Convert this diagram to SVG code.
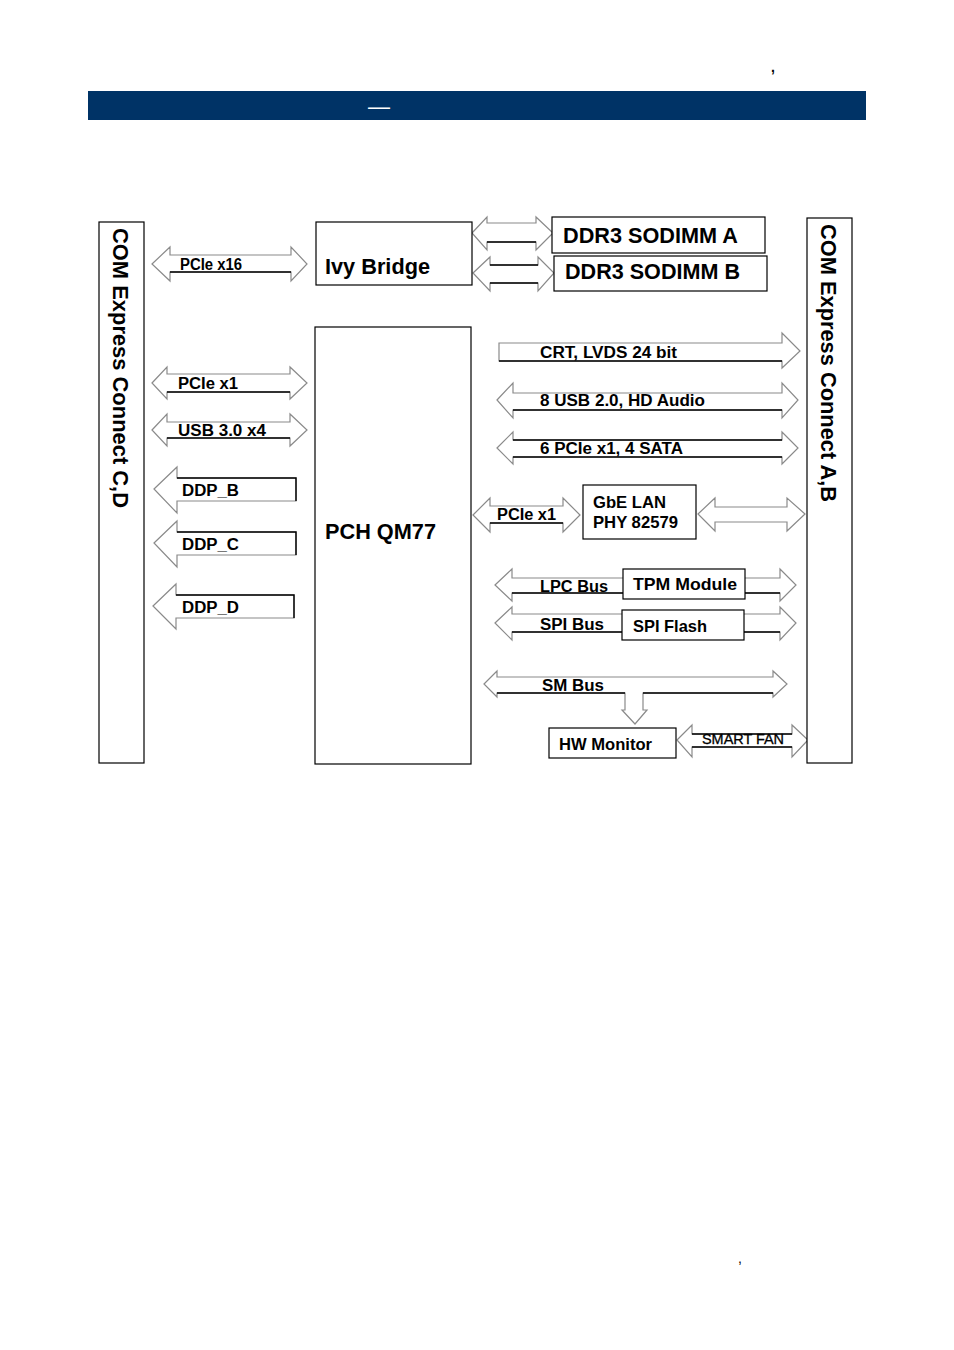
<svg xmlns="http://www.w3.org/2000/svg" width="954" height="1350" viewBox="0 0 954 1350">
<style>
  .ar{fill:#fff;stroke:#8a8a8a;stroke-width:1.2;stroke-linejoin:miter}
  .sh{stroke:#000;stroke-width:1.4;fill:none}
  .bx{fill:#fff;stroke:#000;stroke-width:1.2}
  .t{font-family:"Liberation Sans",Arial,sans-serif;font-weight:bold;fill:#000}
  .lb{font-family:"Liberation Sans",Arial,sans-serif;font-weight:bold;fill:#000;font-size:16px}
</style>
<rect width="954" height="1350" fill="#fff"/>
<g id="header">
  <rect x="88" y="91" width="778" height="29" fill="#003366"/>
  <text x="368" y="114" font-family="Liberation Sans,Arial,sans-serif" font-size="22" fill="#fff">—</text>
  <text x="771" y="72" font-family="Liberation Sans,Arial,sans-serif" font-size="14" font-weight="bold" fill="#000">,</text>
  <text x="738" y="1263" font-family="Liberation Sans,Arial,sans-serif" font-size="14" fill="#000">,</text>
</g>
<g id="connectors">
  <polygon class="ar" points="152,264 170,247 170,255 291,255 291,247 307,264 291,281 291,272 170,272 170,281"/>
  <line class="sh" x1="170" y1="272" x2="291" y2="272"/>
  <text class="lb" x="180" y="270" textLength="62" lengthAdjust="spacingAndGlyphs">PCIe x16</text>

  <polygon class="ar" points="152,383 167,367 167,374 290,374 290,367 307,383 290,399 290,392 167,392 167,399"/>
  <line class="sh" x1="167" y1="392" x2="290" y2="392"/>
  <text class="lb" x="178" y="389" textLength="60" lengthAdjust="spacingAndGlyphs">PCIe x1</text>

  <polygon class="ar" points="152,430 167,414 167,422 290,422 290,414 307,430 290,446 290,438 167,438 167,446"/>
  <line class="sh" x1="167" y1="438" x2="290" y2="438"/>
  <text class="lb" x="178" y="436" textLength="88" lengthAdjust="spacingAndGlyphs">USB 3.0 x4</text>

  <polygon class="ar" points="154,489 177,467 177,478 296,478 296,501 177,501 177,513"/>
  <polyline class="sh" points="177,478 296,478 296,501"/>
  <text class="lb" x="182" y="496" textLength="57" lengthAdjust="spacingAndGlyphs">DDP_B</text>

  <polygon class="ar" points="154,543 177,521 177,532 296,532 296,555 177,555 177,567"/>
  <polyline class="sh" points="177,532 296,532 296,555"/>
  <text class="lb" x="182" y="550" textLength="57" lengthAdjust="spacingAndGlyphs">DDP_C</text>

  <polygon class="ar" points="153,606 176,584 176,595 294,595 294,618 176,618 176,629"/>
  <polyline class="sh" points="176,595 294,595 294,618"/>
  <text class="lb" x="182" y="613" textLength="57" lengthAdjust="spacingAndGlyphs">DDP_D</text>

  <polygon class="ar" points="472,233 487,217 487,223 536,223 536,217 553,233 536,250 536,242 487,242 487,250"/>
  <line class="sh" x1="487" y1="242" x2="536" y2="242"/>
  <polygon class="ar" points="473,273 490,257 490,265 538,265 538,257 554,273 538,291 538,283 490,283 490,291"/>
  <line class="sh" x1="490" y1="265" x2="538" y2="265"/>
  <line class="sh" x1="490" y1="283" x2="538" y2="283"/>

  <polygon class="ar" points="499,343 782,343 782,333 800,351 782,368 782,361 499,361"/>
  <line class="sh" x1="499" y1="361" x2="782" y2="361"/>
  <text class="lb" x="540" y="358" textLength="137" lengthAdjust="spacingAndGlyphs">CRT, LVDS 24 bit</text>

  <polygon class="ar" points="497,400 513,383 513,393 782,393 782,383 798,400 782,418 782,410 513,410 513,418"/>
  <line class="sh" x1="513" y1="410" x2="782" y2="410"/>
  <text class="lb" x="540" y="406" textLength="165" lengthAdjust="spacingAndGlyphs">8 USB 2.0, HD Audio</text>

  <polygon class="ar" points="497,448 513,432 513,440 782,440 782,432 798,448 782,464 782,457 513,457 513,464"/>
  <line class="sh" x1="513" y1="440" x2="782" y2="440"/>
  <line class="sh" x1="513" y1="457" x2="782" y2="457"/>
  <text class="lb" x="540" y="454" textLength="143" lengthAdjust="spacingAndGlyphs">6 PCIe x1, 4 SATA</text>

  <polygon class="ar" points="473,515 490,498 490,506 563,506 563,498 580,515 563,532 563,523 490,523 490,532"/>
  <line class="sh" x1="490" y1="523" x2="563" y2="523"/>
  <text class="lb" x="497" y="520" textLength="59" lengthAdjust="spacingAndGlyphs">PCIe x1</text>

  <polygon class="ar" points="698,514 715,498 715,507 787,507 787,498 805,514 787,531 787,522 715,522 715,531"/>

  <polygon class="ar" points="495,585 512,569 512,578 780,578 780,569 796,585 780,601 780,593 512,593 512,601"/>
  <line class="sh" x1="512" y1="593" x2="780" y2="593"/>
  <text class="lb" x="540" y="592" textLength="68" lengthAdjust="spacingAndGlyphs">LPC Bus</text>

  <polygon class="ar" points="495,623 512,607 512,614 780,614 780,607 796,623 780,640 780,632 512,632 512,640"/>
  <line class="sh" x1="512" y1="632" x2="780" y2="632"/>
  <text class="lb" x="540" y="630" textLength="64" lengthAdjust="spacingAndGlyphs">SPI Bus</text>

  <polygon class="ar" points="484,684 497,671 497,677 773,677 773,671 787,684 773,697 773,693 643,693 643,710 647,710 635,724 622,710 625,710 625,693 497,693 497,697"/>
  <line class="sh" x1="497" y1="693" x2="625" y2="693"/>
  <line class="sh" x1="643" y1="693" x2="773" y2="693"/>
  <text class="lb" x="542" y="691" textLength="62" lengthAdjust="spacingAndGlyphs">SM Bus</text>

  <polygon class="ar" points="677,740 692,725 692,734 792,734 792,725 808,740 792,757 792,747 692,747 692,757"/>
  <line class="sh" x1="692" y1="734" x2="792" y2="734"/>
  <line class="sh" x1="692" y1="747" x2="792" y2="747"/>
  <text x="702" y="744" font-family="Liberation Sans,Arial,sans-serif" font-size="14" fill="#000" stroke="#000" stroke-width="0.3" textLength="82" lengthAdjust="spacingAndGlyphs">SMART FAN</text>
</g>
<g id="com_cd">
  <rect class="bx" x="99" y="222" width="45" height="541"/>
  <text class="t" font-size="22" transform="translate(113,228) rotate(90)" textLength="280" lengthAdjust="spacingAndGlyphs">COM Express Connect C,D</text>
</g>
<g id="com_ab">
  <rect class="bx" x="807" y="218" width="45" height="545"/>
  <text class="t" font-size="22" transform="translate(821,224) rotate(90)" textLength="278" lengthAdjust="spacingAndGlyphs">COM Express Connect A,B</text>
</g>
<g id="ivy_bridge">
  <rect class="bx" x="316" y="222" width="156" height="63"/>
  <text class="t" font-size="21.5" x="325" y="274" textLength="105" lengthAdjust="spacingAndGlyphs">Ivy Bridge</text>
</g>
<g id="pch_qm77">
  <rect class="bx" x="315" y="327" width="156" height="437"/>
  <text class="t" font-size="21.5" x="325" y="539" textLength="111" lengthAdjust="spacingAndGlyphs">PCH QM77</text>
</g>
<g id="ddr3_a">
  <rect class="bx" x="552" y="217" width="213" height="36"/>
  <text class="t" font-size="21.5" x="563" y="243" textLength="175" lengthAdjust="spacingAndGlyphs">DDR3 SODIMM A</text>
</g>
<g id="ddr3_b">
  <rect class="bx" x="554" y="256" width="213" height="35"/>
  <text class="t" font-size="21.5" x="565" y="279" textLength="175" lengthAdjust="spacingAndGlyphs">DDR3 SODIMM B</text>
</g>
<g id="gbe_lan">
  <rect class="bx" x="583" y="485" width="113" height="54"/>
  <text class="t" font-size="16.7" x="593" y="508" textLength="73" lengthAdjust="spacingAndGlyphs">GbE LAN</text>
  <text class="t" font-size="16.7" x="593" y="528" textLength="85" lengthAdjust="spacingAndGlyphs">PHY 82579</text>
</g>
<g id="tpm_module">
  <rect class="bx" x="623" y="569" width="122" height="30"/>
  <text class="t" font-size="17" x="633" y="590" textLength="104" lengthAdjust="spacingAndGlyphs">TPM Module</text>
</g>
<g id="spi_flash">
  <rect class="bx" x="622" y="610" width="122" height="30"/>
  <text class="t" font-size="17" x="633" y="632" textLength="74" lengthAdjust="spacingAndGlyphs">SPI Flash</text>
</g>
<g id="hw_monitor">
  <rect class="bx" x="549" y="728" width="127" height="30"/>
  <text class="t" font-size="16.6" x="559" y="750" textLength="93" lengthAdjust="spacingAndGlyphs">HW Monitor</text>
</g>
</svg>
